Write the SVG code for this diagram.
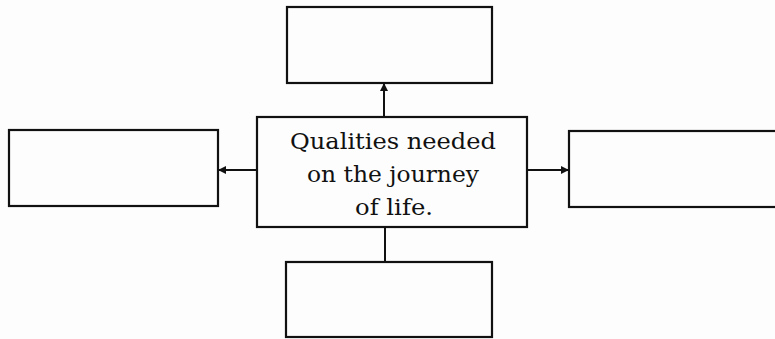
<svg xmlns="http://www.w3.org/2000/svg" width="775" height="339" viewBox="0 0 775 339">
<defs>
<style>
.box{fill:none;stroke:#111;stroke-width:2.2}
.line{stroke:#111;stroke-width:2;fill:none}
.t{font-family:"DejaVu Serif","Liberation Serif",serif;font-size:22px;fill:#111;text-anchor:middle}
</style>
<marker id="ah" markerWidth="8" markerHeight="8" refX="7" refY="4" orient="auto" markerUnits="userSpaceOnUse">
<path d="M0,0 L8,4 L0,8 Z" fill="#111"/>
</marker>
</defs>
<rect width="775" height="339" fill="#fdfdfd"/>
<g id="connectors">
<line class="line" x1="384" y1="117" x2="384" y2="84" marker-end="url(#ah)"/>
<line class="line" x1="257" y1="170" x2="219" y2="170" marker-end="url(#ah)"/>
<line class="line" x1="527" y1="170" x2="568" y2="170" marker-end="url(#ah)"/>
<line class="line" x1="385" y1="227" x2="385" y2="262"/>
</g>
<g id="top"><rect class="box" x="287" y="7" width="205" height="76"/></g>
<g id="left"><rect class="box" x="9" y="130" width="209" height="76"/></g>
<g id="right"><rect class="box" x="569" y="131" width="212" height="76"/></g>
<g id="bottom"><rect class="box" x="286" y="262" width="206" height="75"/></g>
<g id="center">
<rect class="box" x="257" y="117" width="270" height="110"/>
<text class="t" x="393" y="149" textLength="206" lengthAdjust="spacingAndGlyphs">Qualities needed</text>
<text class="t" x="393" y="182" textLength="172" lengthAdjust="spacingAndGlyphs">on the journey</text>
<text class="t" x="394" y="215" textLength="78" lengthAdjust="spacingAndGlyphs">of life.</text>
</g>
</svg>
